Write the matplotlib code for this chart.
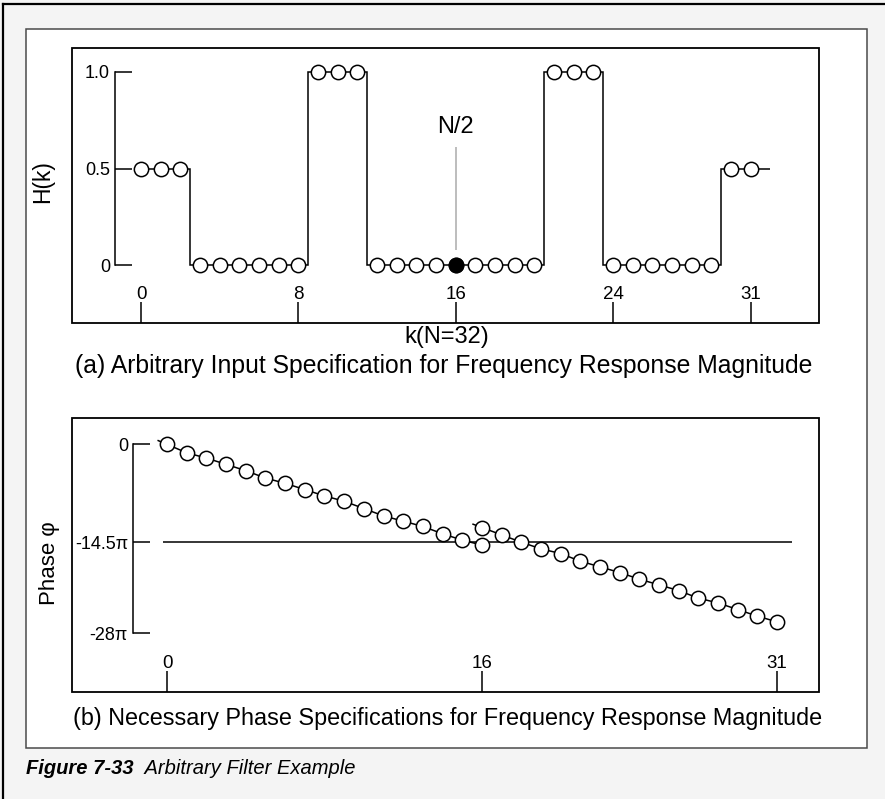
import numpy as np
import matplotlib
matplotlib.use("Agg")
import matplotlib.pyplot as plt
from matplotlib.patches import Rectangle
from matplotlib.lines import Line2D

plt.rcParams['font.family'] = ['Liberation Sans', 'DejaVu Sans']

# ---------------- data ----------------
# (a) desired magnitude samples H(k), k = 0..31
k = np.arange(32)
magnitude = [0.5, 0.5, 0.5,
             0, 0, 0, 0, 0, 0,
             1.0, 1.0, 1.0,
             0, 0, 0, 0, 0, 0, 0, 0, 0,
             1.0, 1.0, 1.0,
             0, 0, 0, 0, 0, 0,
             0.5, 0.5]
mag_ticks = [0, 0.5, 1.0]
mag_ticklabels = ["0", "0.5", "1.0"]
k_ticks_a = [0, 8, 16, 24, 31]
half_k = 16

# (b) phase samples in units of pi; two branches meet at k = N/2
phase_lower = [0, -1.25, -2.03, -2.96, -3.90, -4.99, -5.77, -6.70, -7.64,
               -8.42, -9.51, -10.60, -11.38, -12.16, -13.25, -14.19, -14.92]
phase_upper = [-12.32, -13.41, -14.50, -15.48, -16.18, -17.31, -18.15, -18.99,
               -19.98, -20.82, -21.67, -22.79, -23.50, -24.48, -25.46, -26.31]
phase_ticks = [0, -14.5, -28]
phase_ticklabels = ["0", "-14.5\u03c0", "-28\u03c0"]
phase_ref = -14.5
k_ticks_b = [0, 16, 31]

# ---------------- figure ----------------
W, H = 885, 799
fig = plt.figure(figsize=(W / 100, H / 100), dpi=100, facecolor='#f4f4f4')

def fx(px):
    return px / W

def fy(py):
    return 1 - py / H

# white panel and outer rules
fig.add_artist(Rectangle((fx(26), fy(748)), fx(867) - fx(26), fy(29) - fy(748),
                         transform=fig.transFigure, facecolor='white',
                         edgecolor='#4a4a4a', lw=1.1, zorder=0))
fig.add_artist(Line2D([fx(3), fx(3)], [0, fy(4)], transform=fig.transFigure,
                      color='black', lw=1.6))
fig.add_artist(Line2D([fx(3), 1], [fy(4), fy(4)], transform=fig.transFigure,
                      color='black', lw=1.6))

LW = 1.1
marker_kw = dict(marker='o', ms=10.3, mfc='white', mec='black', mew=LW)


def style_axes(ax, spine_frac, bounds):
    for s in ['top', 'right', 'bottom']:
        ax.spines[s].set_visible(False)
    ax.spines['left'].set_position(('axes', spine_frac))
    ax.spines['left'].set_bounds(*bounds)
    ax.spines['left'].set_linewidth(LW)
    ax.add_patch(Rectangle((0, 0), 1, 1, transform=ax.transAxes, fill=False,
                           lw=1.3, ec='black', clip_on=False, zorder=6))
    ax.tick_params(axis='y', direction='in', length=12, width=LW, pad=3.6,
                   labelsize=13)
    ax.tick_params(axis='x', direction='in', length=15, width=LW, pad=-26.5,
                   labelsize=13.5)


def lead_in(xs, ys, frac=0.45):
    """Short leading stroke continuing a branch's slope before its first sample."""
    x0, x1 = xs[0], xs[1]
    y0, y1 = ys[0], ys[1]
    return [x0 - frac * (x1 - x0), x0], [y0 - frac * (y1 - y0), y0]


# ---- (a) magnitude ----
ax1 = fig.add_axes([fx(72), fy(323), fx(819) - fx(72), fy(48) - fy(323)])
ax1.set_xlim(-3.51, 34.47)
ax1.set_ylim(-0.30, 1.124)
style_axes(ax1, (115 - 72) / 747, (0, 1))
ax1.set_yticks(mag_ticks, mag_ticklabels)
ax1.set_xticks(k_ticks_a)

edges = np.concatenate([[k[0]], k[1:] - 0.5, [k[-1] + 1]])
ax1.stairs(magnitude, edges, baseline=None, color='black', lw=LW, zorder=2)
ax1.plot(k, magnitude, ls='none', zorder=3, **marker_kw)
ax1.plot(k[half_k], magnitude[half_k], ls='none', zorder=4,
         **{**marker_kw, 'mfc': 'black'})
ax1.vlines(k[half_k], 0.08, 0.61, color='#b8b8b8', lw=1.3, zorder=1)
ax1.text(k[half_k], 0.715, "N/2", ha='center', va='center', fontsize=17)

fig.text(fx(43), fy(182), "H(k)", rotation=90, ha='center', va='center',
         fontsize=16.5)
fig.text(fx(447), fy(337), "k(N=32)", ha='center', va='center', fontsize=17)
fig.text(fx(444), fy(366),
         "(a) Arbitrary Input Specification for Frequency Response Magnitude",
         ha='center', va='center', fontsize=17.8)

# ---- (b) phase ----
ax2 = fig.add_axes([fx(72), fy(692), fx(819) - fx(72), fy(418) - fy(692)])
ax2.set_xlim(-4.83, 33.13)
ax2.set_ylim(-36.7, 3.91)
style_axes(ax2, (133 - 72) / 747, (phase_ticks[-1], phase_ticks[0]))
ax2.set_yticks(phase_ticks, phase_ticklabels)
ax2.set_xticks(k_ticks_b)

ax2.hlines(phase_ref, k[0] - 0.2, k[-1] + 0.75, color='black', lw=LW, zorder=1)
k_lower = k[:half_k + 1]
k_upper = k[half_k:]
for kk, ph in [(k_lower, phase_lower), (k_upper, phase_upper)]:
    sx, sy = lead_in(kk, ph)
    ax2.plot(sx, sy, color='black', lw=LW, zorder=2)
    ax2.plot(kk, ph, color='black', lw=LW, zorder=3, **marker_kw)

fig.text(fx(50), fy(563), "Phase \u03c6", rotation=90, ha='center',
         va='center', fontsize=16)
fig.text(fx(448), fy(718),
         "(b) Necessary Phase Specifications for Frequency Response Magnitude",
         ha='center', va='center', fontsize=16.8)

# ---- figure caption ----
t1 = fig.text(fx(26), fy(778), "Figure 7-33", fontsize=14.5, fontweight='bold',
              fontstyle='italic', ha='left', va='bottom')
ax2.annotate("  Arbitrary Filter Example", xy=(1, 0), xycoords=t1,
             ha='left', va='bottom', fontsize=14.5, fontstyle='italic',
             annotation_clip=False)

fig.savefig("out.png", dpi=100, facecolor=fig.get_facecolor())
